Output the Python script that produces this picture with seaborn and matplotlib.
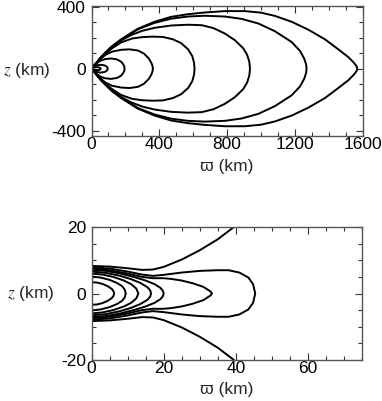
import numpy as np
import pandas as pd
import matplotlib
matplotlib.use("Agg")
import matplotlib.pyplot as plt
from matplotlib.ticker import MultipleLocator
import seaborn as sns

# ---------------- data (upper halves; curves are symmetric in z) ----------------
# Top panel: closed loops, (varpi [km], z [km])
top_w0 = [0, 10, 20, 32, 42, 50, 53, 54]
top_z0 = [0, 6, 9, 10, 9, 6, 3, 0]
top_w1 = [0, 15, 30, 50, 65, 80, 90, 95, 96]
top_z1 = [0, 14, 21, 25, 24, 20, 13, 6, 0]
top_w2 = [0, 25, 50, 80, 115, 150, 175, 188, 194, 195]
top_z2 = [0, 30, 50, 62, 66, 60, 45, 27, 12, 0]
top_w3 = [0, 40, 80, 120, 175, 225, 275, 310, 338, 352, 360, 362]
top_z3 = [0, 50, 88, 110, 122, 125, 117, 97, 66, 40, 18, 0]
top_w4 = [0, 57, 116, 175, 240, 300, 360, 421, 480, 529, 570, 595, 605, 608]
top_z4 = [0, 72, 128, 170, 195, 204, 207, 205, 190, 165, 125, 80, 38, 0]
top_w5 = [0, 57, 116, 175, 235, 300, 372, 470, 570, 650, 720, 787, 846, 895, 918, 931, 935]
top_z5 = [0, 74, 136, 183, 218, 245, 264, 279, 284, 281, 262, 227, 184, 132, 90, 45, 0]
top_w6 = [0, 57, 116, 175, 273, 372, 470, 569, 667, 787, 885, 984, 1082, 1181, 1230, 1255, 1266, 1269]
top_z6 = [0, 75, 139, 187, 254, 296, 323, 337, 342, 337, 322, 292, 242, 172, 115, 65, 28, 0]
top_w7 = [0, 57, 116, 175, 273, 372, 470, 569, 667, 787, 905, 1000, 1082, 1181, 1279, 1377, 1456, 1515, 1545, 1560, 1566, 1568]
top_z7 = [0, 76, 141, 190, 258, 303, 335, 352, 363, 372, 372, 362, 341, 303, 252, 190, 125, 75, 42, 22, 10, 0]

# Bottom panel: loops starting at the axis, plus the open outer line
bot_w1 = [0, 1.5, 3, 4.5, 5.6, 6.1, 6.3]
bot_z1 = [3.4, 3.3, 2.9, 2.2, 1.4, 0.7, 0]
bot_w2 = [0, 2.5, 5, 7, 8.5, 9.2, 9.5]
bot_z2 = [5.1, 4.8, 4.1, 3.2, 2.2, 1.2, 0]
bot_w3 = [0, 3, 6, 9, 11, 12.4, 13]
bot_z3 = [6.0, 5.7, 5.0, 3.9, 2.8, 1.5, 0]
bot_w4 = [0, 4, 8, 11, 13.5, 15.5, 16.3, 16.5]
bot_z4 = [6.6, 6.2, 5.3, 4.3, 3.2, 1.9, 0.9, 0]
bot_w5 = [0, 4, 8, 12, 15, 17.5, 19.1, 19.8, 20]
bot_z5 = [7.1, 6.8, 6.0, 4.9, 3.9, 2.8, 1.7, 0.8, 0]
bot_w6 = [0, 5, 10, 14, 17, 20, 22, 25, 28, 31, 33, 33.4]
bot_z6 = [7.5, 7.0, 6.0, 5.0, 4.6, 4.6, 4.4, 3.9, 3.1, 2.0, 0.6, 0]
bot_w7 = [0, 5, 10, 14, 17, 20, 25, 30, 35, 38, 41, 43.5, 44.8, 45.4]
bot_z7 = [7.9, 7.5, 6.6, 5.7, 5.3, 5.6, 6.3, 6.8, 7.0, 7.0, 6.3, 4.8, 2.8, 0]
bot_open_w = [0, 5, 10, 14, 17, 20, 25, 30, 35, 39.5]
bot_open_z = [8.3, 8.1, 7.6, 7.1, 7.2, 8.0, 10.2, 13.0, 16.3, 20.0]

top_xticks = [0, 400, 800, 1200, 1600]
top_yticks = [-400, 0, 400]
bot_xticks = [0, 20, 40, 60]
bot_yticks = [-20, 0, 20]


def loop_df(w, z, name):
    w = np.asarray(w, float)
    z = np.asarray(z, float)
    ww = np.concatenate([w, w[::-1]])
    zz = np.concatenate([z, -z[::-1]])
    return pd.DataFrame({"w": ww, "z": zz, "curve": name})


def half_df(w, z, name, sign):
    return pd.DataFrame({"w": np.asarray(w, float),
                         "z": sign * np.asarray(z, float), "curve": name})


top_df = pd.concat([
    loop_df(top_w0, top_z0, "t0"), loop_df(top_w1, top_z1, "t1"),
    loop_df(top_w2, top_z2, "t2"), loop_df(top_w3, top_z3, "t3"),
    loop_df(top_w4, top_z4, "t4"), loop_df(top_w5, top_z5, "t5"),
    loop_df(top_w6, top_z6, "t6"), loop_df(top_w7, top_z7, "t7"),
], ignore_index=True)

bot_df = pd.concat([
    loop_df(bot_w1, bot_z1, "b1"), loop_df(bot_w2, bot_z2, "b2"),
    loop_df(bot_w3, bot_z3, "b3"), loop_df(bot_w4, bot_z4, "b4"),
    loop_df(bot_w5, bot_z5, "b5"), loop_df(bot_w6, bot_z6, "b6"),
    loop_df(bot_w7, bot_z7, "b7"),
    half_df(bot_open_w, bot_open_z, "bu", 1),
    half_df(bot_open_w, bot_open_z, "bl", -1),
], ignore_index=True)

# ---------------- styling ----------------
sns.set_theme(style="ticks")
plt.rcParams["font.family"] = ["Liberation Sans", "DejaVu Sans"]
plt.rcParams["mathtext.fontset"] = "stix"
plt.rcParams["axes.unicode_minus"] = False
plt.rcParams["font.size"] = 12.5

fig = plt.figure(figsize=(3.82, 4.01), dpi=100)
ax1 = fig.add_axes([91.5 / 382, 1 - 136 / 401, 271.2 / 382, 130 / 401])
ax2 = fig.add_axes([91.5 / 382, 1 - 360 / 401, 270.5 / 382, 133 / 401])

sns.lineplot(data=top_df, x="w", y="z", units="curve", estimator=None,
             sort=False, color="black", lw=1.4, ax=ax1, legend=False)
sns.lineplot(data=bot_df, x="w", y="z", units="curve", estimator=None,
             sort=False, color="black", lw=1.4, ax=ax2, legend=False)

ax1.set_xlim(0, 1600)
ax1.set_ylim(-435, 405)
ax1.set_xticks(top_xticks)
ax1.set_yticks(top_yticks)
ax1.xaxis.set_minor_locator(MultipleLocator(100))
ax1.yaxis.set_minor_locator(MultipleLocator(100))

ax2.set_xlim(0, 75)
ax2.set_ylim(-20, 20)
ax2.set_xticks(bot_xticks)
ax2.set_yticks(bot_yticks)
ax2.xaxis.set_minor_locator(MultipleLocator(5))
ax2.yaxis.set_minor_locator(MultipleLocator(5))

for ax, lx, lp in ((ax1, -0.24, 5), (ax2, -0.225, 4)):
    ax.tick_params(which="both", direction="in", top=True, right=True,
                   colors="#333333", labelcolor="black", labelsize=12.5,
                   width=0.8)
    ax.tick_params(axis="x", which="both", pad=1)
    ax.tick_params(axis="y", which="both", pad=4)
    ax.tick_params(which="major", length=5)
    ax.tick_params(which="minor", length=3)
    for s in ax.spines.values():
        s.set_color("#555555")
        s.set_linewidth(1.0)
    ax.set_xlabel("\u03d6 (km)", fontsize=12.5, labelpad=lp)
    ax.set_ylabel("$z$ (km)", fontsize=12.5, rotation=0, va="center", ha="center")
    ax.yaxis.set_label_coords(lx, 0.5)

fig.savefig("out.png", dpi=100)
